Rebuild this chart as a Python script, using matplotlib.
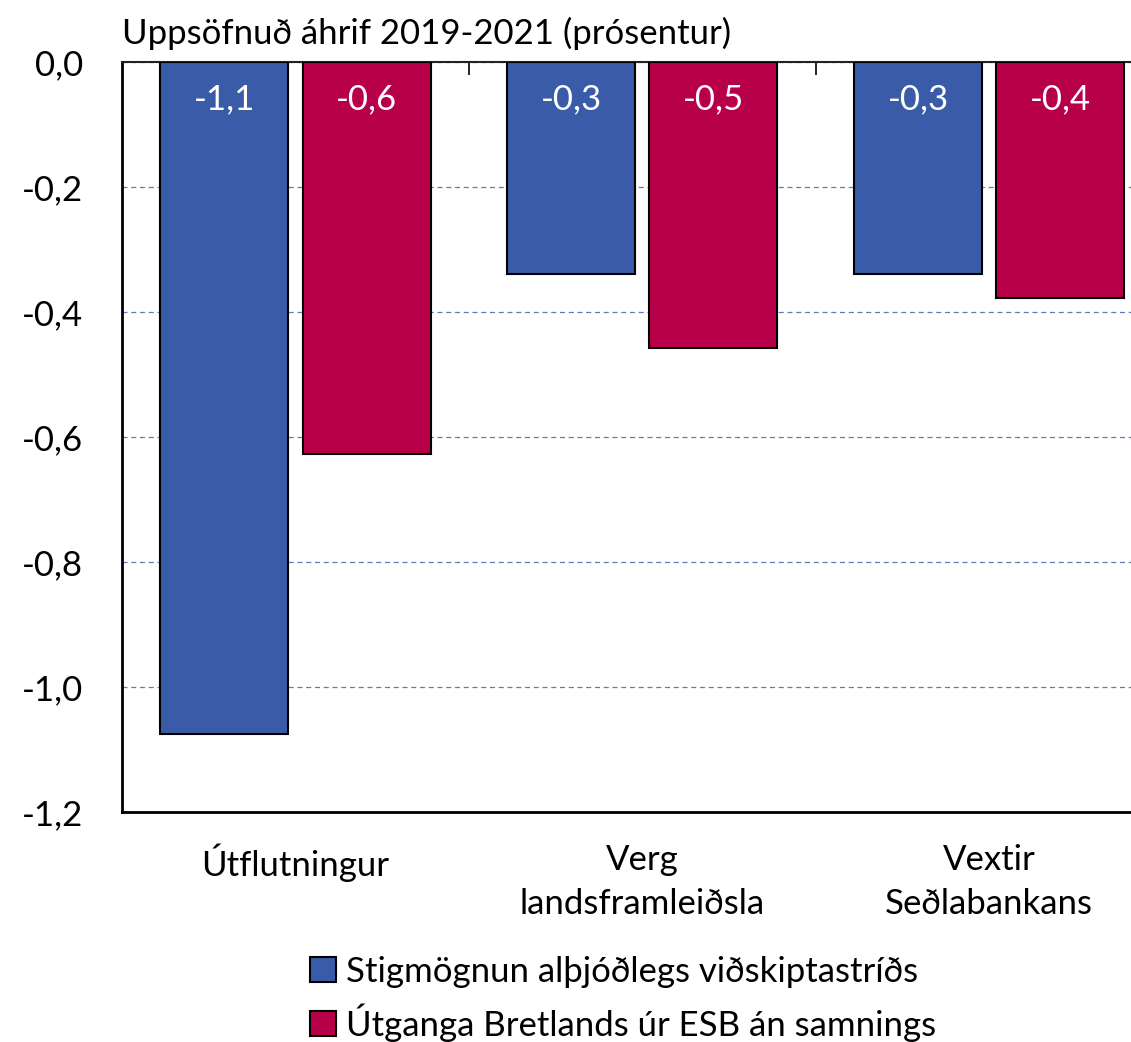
import numpy as np
import matplotlib
matplotlib.use("Agg")
import matplotlib.pyplot as plt
from matplotlib.patches import Patch

plt.rcParams["font.family"] = ["Lato", "DejaVu Sans"]

# --- data ---
categories = ["Útflutningur", "Verg\nlandsframleiðsla", "Vextir\nSeðlabankans"]
series_names = ["Stigmögnun alþjóðlegs viðskiptastríðs",
                "Útganga Bretlands úr ESB án samnings"]
trade_war = [-1.075, -0.339, -0.339]
brexit = [-0.627, -0.458, -0.378]
yticks = [0.0, -0.2, -0.4, -0.6, -0.8, -1.0, -1.2]
title = "Uppsöfnuð áhrif 2019-2021 (prósentur)"

BLUE = "#3A5BA7"
RED = "#B8004A"
FS = 25

fig = plt.figure(figsize=(11.31, 10.42), dpi=100)
ax = fig.add_axes([0.1079, 0.2207, 0.92, 0.7198])

x = np.arange(len(categories))
w = 0.369
off = 0.205
b1 = ax.bar(x - off, trade_war, w, color=BLUE, edgecolor="black", linewidth=1.5, zorder=3)
b2 = ax.bar(x + off, brexit, w, color=RED, edgecolor="black", linewidth=1.5, zorder=3)

# value labels inside the top of each bar
for bars, vals in [(b1, trade_war), (b2, brexit)]:
    for rect, v in zip(bars, vals):
        ax.text(rect.get_x() + rect.get_width() / 2, -0.06,
                f"{v:.1f}".replace(".", ","), ha="center", va="center",
                color="white", fontsize=FS, zorder=4)

ax.set_xlim(-0.5, len(categories) - 0.5)
ax.set_ylim(-1.2, 0.0)
ax.set_yticks(yticks)
ax.set_yticklabels([f"{t:.1f}".replace(".", ",") for t in yticks], fontsize=FS)
ax.tick_params(axis="y", length=0, pad=28)

ax.set_xticks(x)
ax.set_xticklabels(categories, fontsize=FS, linespacing=1.45)
ax.tick_params(axis="x", which="major", length=0, pad=23)
ax.set_xticks(x[:-1] + 0.5, minor=True)
ax.tick_params(axis="x", which="minor", bottom=False, top=True, direction="in",
               length=9, width=1.2, color="black")

ax.yaxis.grid(True, color="#5B7DB8", linestyle=(0, (4, 3)), linewidth=0.9, zorder=0)
ax.set_axisbelow(True)

for s in ["left", "bottom"]:
    ax.spines[s].set_linewidth(2)
    ax.spines[s].set_color("black")
ax.spines["top"].set_linewidth(1.5)
ax.spines["top"].set_color("#222222")
ax.spines["right"].set_visible(False)

fig.text(0.1079, 0.968, title, fontsize=FS, ha="left", va="center")

handles = [Patch(facecolor=BLUE, edgecolor="black", linewidth=1.5),
           Patch(facecolor=RED, edgecolor="black", linewidth=1.5)]
fig.legend(handles, series_names, loc="upper left", bbox_to_anchor=(0.274, 0.083),
           frameon=False, fontsize=FS, handlelength=0.75, handleheight=0.75,
           handletextpad=0.3, labelspacing=0.45, borderaxespad=0, borderpad=0)

fig.savefig("out.png", dpi=100)
